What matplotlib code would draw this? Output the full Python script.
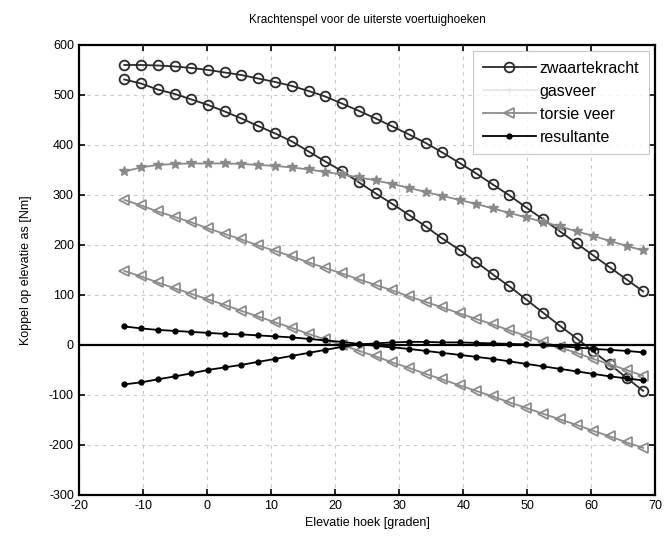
import matplotlib
matplotlib.use("Agg")
import matplotlib.pyplot as plt
from matplotlib.lines import Line2D

plt.rcParams['font.family'] = ['Liberation Sans', 'DejaVu Sans']
plt.rcParams['axes.unicode_minus'] = False

# elevatie hoek [graden]
hoek = [-13.0, -10.4, -7.8, -5.1, -2.5, 0.1, 2.7, 5.3, 7.9, 10.6, 13.2, 15.8,
        18.4, 21.0, 23.7, 26.3, 28.9, 31.5, 34.1, 36.7, 39.4, 42.0, 44.6, 47.2,
        49.8, 52.5, 55.1, 57.7, 60.3, 62.9, 65.5, 68.1]

# zwaartekracht, twee uiterste voertuighoeken
zwaarte_a = [560, 560, 559, 557, 554, 550, 545, 540, 533, 526, 518, 508,
             497, 483, 468, 453, 437, 421, 404, 385, 364, 343, 321, 299,
             275, 251, 227, 203, 179, 155, 131, 107]
zwaarte_b = [531, 523, 511, 502, 491, 480, 467, 453, 438, 423, 407, 387,
             367, 348, 325, 303, 282, 260, 237, 213, 190, 166, 141, 117,
             91, 64, 38, 13, -13, -39, -66, -92]

# gasveer
gasveer = [347, 355, 360, 362, 363, 363, 363, 362, 360, 358, 355, 351,
           346, 341, 335, 329, 322, 314, 306, 298, 290, 282, 273, 264,
           255, 246, 237, 227, 218, 208, 198, 189]

# torsie veer
torsie_a = [290, 279, 267, 256, 245, 233, 222, 211, 199, 188, 177, 165,
            154, 143, 131, 120, 109, 97, 86, 75, 63, 52, 41, 29,
            18, 6, -5, -16, -28, -39, -50, -62]
torsie_b = [148, 137, 125, 113, 102, 91, 80, 68, 57, 45, 34, 22,
            11, 0, -12, -23, -35, -46, -58, -69, -81, -92, -103, -115,
            -126, -138, -149, -160, -172, -183, -195, -206]

# resultante
result_a = [37, 33, 30, 28, 26, 24, 22, 21, 19, 17, 15, 12,
            9, 6, 2, -2, -5, -8, -12, -16, -20, -24, -28, -33,
            -38, -43, -48, -53, -58, -63, -67, -71]
result_b = [-79, -75, -69, -63, -57, -50, -45, -40, -34, -28, -22, -16,
            -10, -4, 1, 3, 5, 6, 6, 5, 5, 4, 3, 2,
            1, -1, -3, -5, -8, -10, -12, -15]

fig = plt.figure(figsize=(6.68, 5.42), dpi=100)
ax = fig.add_axes([0.119, 0.087, 0.862, 0.830])

zw_kw = dict(color='#2a2a2a', marker='o', markersize=7, markerfacecolor='none',
             markeredgewidth=1.3, linewidth=1.3)
gas_kw = dict(color='#8a8a8a', marker='*', markersize=7, linewidth=1.3)
tor_kw = dict(color='#8c8c8c', marker='<', markersize=6.5, markerfacecolor='none',
              markeredgewidth=1.3, linewidth=1.3)
res_kw = dict(color='black', marker='.', markersize=7, linewidth=1.3)

ax.plot(hoek, zwaarte_a, **zw_kw)
ax.plot(hoek, zwaarte_b, **zw_kw)
ax.plot(hoek, gasveer, **gas_kw)
ax.plot(hoek, torsie_a, **tor_kw)
ax.plot(hoek, torsie_b, **tor_kw)
ax.plot(hoek, result_a, **res_kw)
ax.plot(hoek, result_b, **res_kw)
ax.axhline(0, color='black', linewidth=1.6)

ax.set_xlim(-20, 70)
ax.set_ylim(-300, 600)
ax.set_xticks(range(-20, 71, 10))
ax.set_yticks(range(-300, 601, 100))
ax.grid(True, linestyle=(0, (3, 4)), color='#c8c8c8', linewidth=0.8)
ax.tick_params(direction='in', top=True, right=True, length=4, width=1.2,
               labelsize=9, pad=4)
for s in ax.spines.values():
    s.set_linewidth(1.6)

ax.set_title('Krachtenspel voor de uiterste voertuighoeken', fontsize=8.5, pad=16)
ax.set_xlabel('Elevatie hoek [graden]', fontsize=9, labelpad=3)
ax.set_ylabel('Koppel op elevatie as [Nm]', fontsize=9, labelpad=12)

handles = [
    Line2D([], [], **zw_kw),
    Line2D([], [], color='#e6e6e6', marker='+', markersize=4, linewidth=1.3),
    Line2D([], [], **tor_kw),
    Line2D([], [], **res_kw),
]
labels = ['zwaartekracht', 'gasveer', 'torsie veer', 'resultante']
leg = ax.legend(handles, labels, loc='upper right', fontsize=11.5, frameon=True,
                fancybox=False, edgecolor='#bbbbbb', handlelength=3.3,
                borderaxespad=0.4, labelspacing=0.5, handletextpad=0.25,
                borderpad=0.6)
leg.get_frame().set_linewidth(0.8)

fig.savefig('out.png', dpi=100)
